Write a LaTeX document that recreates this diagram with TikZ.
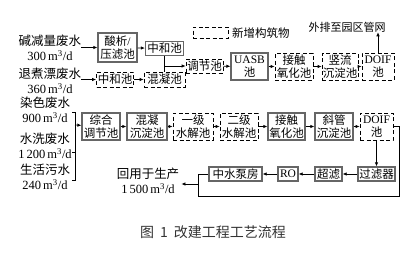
\documentclass[tikz,border=0pt]{standalone}
\usepackage{fontspec}
\setmainfont{Liberation Serif}
\newfontfamily\cjk{Noto Sans CJK SC}
\usetikzlibrary{arrows.meta}
\newcommand{\zh}[1]{{\cjk #1}}
\newcommand{\md}[1]{#1\,m\textsuperscript{3}/d}

\begin{document}
\begin{tikzpicture}[x=1pt,y=-1pt,
  box/.style={draw=black!60,line width=1.2pt,inner sep=0pt,align=center,font=\fontsize{11.5}{12.5}\selectfont},
  newbox/.style={draw=black,line width=0.7pt,dash pattern=on 4pt off 2.5pt,inner sep=0pt,align=center,font=\fontsize{11.5}{12.5}\selectfont},
  src/.style={align=center,inner sep=0pt,font=\fontsize{12.5}{14.5}\selectfont},
  flow/.style={-{Latex[length=4pt,width=3.5pt]},line width=0.7pt},
  pipe/.style={line width=0.7pt}]
\useasboundingbox (0,0) rectangle (413,265);
% legend
\node[newbox,minimum width=35pt,minimum height=11pt] (key) at (210.5,32.5) {};
\node[src,anchor=west,font=\fontsize{11.5}{13}\selectfont] (keytxt) at (232,33) {\zh{新增构筑物}};
% top line
\node[src] (s1) at (50,48) {\zh{碱减量废水}\\\md{300}};
\node[box,minimum width=39pt,minimum height=29pt] (acid) at (117.5,47.5) {\zh{酸析}/\\\zh{压滤池}};
\node[box,minimum width=38pt,minimum height=14pt] (n1) at (164.5,48.5) {\zh{中和池}};
\node[src] (s2) at (50,81) {\zh{退煮漂废水}\\\md{360}};
\node[newbox,minimum width=37pt,minimum height=15pt] (n2) at (115,79.5) {\zh{中和池}};
\node[newbox,minimum width=41pt,minimum height=15pt] (coag) at (164.5,79.5) {\zh{混凝池}};
\node[newbox,minimum width=37pt,minimum height=14pt] (eq) at (204.5,66) {\zh{调节池}};
\node[box,minimum width=37pt,minimum height=27pt] (uasb) at (249.5,66.5) {UASB\\\zh{池}};
\node[newbox,minimum width=38pt,minimum height=27pt] (cox1) at (294,66.5) {\zh{接触}\\\zh{氧化池}};
\node[newbox,minimum width=36pt,minimum height=27pt] (vsed) at (340,66.5) {\zh{竖流}\\\zh{沉淀池}};
\node[newbox,minimum width=32pt,minimum height=27pt] (doif1) at (378,66.5) {DOIF\\\zh{池}};
\node[src,font=\fontsize{11}{13}\selectfont] (out) at (347,27) {\zh{外排至园区管网}};
\draw[flow] (s1.east |- acid) -- (acid);
\draw[flow] (acid) -- (n1);
\draw[flow] (s2.east |- n2) -- (n2);
\draw[flow] (n2) -- (coag);
\draw[pipe] (n1.south) -- (coag.north);
\draw[flow] (n1.south |- eq.west) -- (eq.west);
\draw[flow] (eq) -- (uasb);
\draw[flow] (uasb) -- (cox1);
\draw[flow] (cox1) -- (vsed);
\draw[flow] (vsed) -- (doif1);
\draw[flow] (doif1.north) -- (doif1.north |- out.south);
% main line
\node[src] (s3) at (45,110) {\zh{染色废水}\\\md{900}};
\node[src] (s4) at (45,146) {\zh{水洗废水}\\\md{1\,200}};
\node[src] (s5) at (45,177) {\zh{生活污水}\\\md{240}};
\draw[pipe] (72,112) -- (75,112) -- (75,180) -- (72,180) (75,152) -- (72,152);
\coordinate (brk) at (75,125);
\node[box,minimum width=38pt,minimum height=27pt] (mix) at (101,126.5) {\zh{综合}\\\zh{调节池}};
\node[box,minimum width=40pt,minimum height=27pt] (csed) at (147,126.5) {\zh{混凝}\\\zh{沉淀池}};
\node[newbox,minimum width=40pt,minimum height=27pt] (hyd1) at (193,126.5) {\zh{一级}\\\zh{水解池}};
\node[newbox,minimum width=38pt,minimum height=27pt] (hyd2) at (239,126.5) {\zh{二级}\\\zh{水解池}};
\node[box,minimum width=37pt,minimum height=27pt] (cox2) at (286.5,126.5) {\zh{接触}\\\zh{氧化池}};
\node[box,minimum width=38pt,minimum height=27pt] (isep) at (334,126.5) {\zh{斜管}\\\zh{沉淀池}};
\node[newbox,minimum width=33pt,minimum height=27pt] (doif2) at (376.5,126.5) {DOIF\\\zh{池}};
\draw[flow] (brk) -- (mix);
\draw[flow] (mix) -- (csed);
\draw[flow] (csed) -- (hyd1);
\draw[flow] (hyd1) -- (hyd2);
\draw[flow] (hyd2) -- (cox2);
\draw[flow] (cox2) -- (isep);
\draw[flow] (isep) -- (doif2);
% reuse line
\node[box,minimum width=37pt,minimum height=14pt] (filt) at (376.5,174) {\zh{过滤器}};
\node[box,minimum width=27pt,minimum height=14pt] (uf) at (328.5,174) {\zh{超滤}};
\node[box,minimum width=20pt,minimum height=14pt] (ro) at (288,174) {RO};
\node[box,minimum width=53pt,minimum height=14pt] (pump) at (235.5,174) {\zh{中水泵房}};
\node[src] (reuse) at (148,181) {\zh{回用于生产}\\\md{1\,500}};
\draw[flow] (doif2) -- (filt);
\draw[flow] (filt) -- (uf);
\draw[flow] (uf) -- (ro);
\draw[flow] (ro) -- (pump);
\coordinate (c1) at (399,196);
\coordinate (c2) at (198,196);
\coordinate (c3) at (198,174);
\coordinate (jr) at (198,184);
\draw[pipe] (doif2.east) -| (c1) -- (c2) -- (c3) -- (pump.west);
\draw[flow] (jr) -- ([xshift=2pt]reuse.east |- jr);
% caption
\node[font=\cjk\fontsize{14}{16}\selectfont,text=black!80] (cap) at (213,232) {图\hspace{6pt}1\hspace{6pt}改建工程工艺流程};
\end{tikzpicture}
\end{document}
